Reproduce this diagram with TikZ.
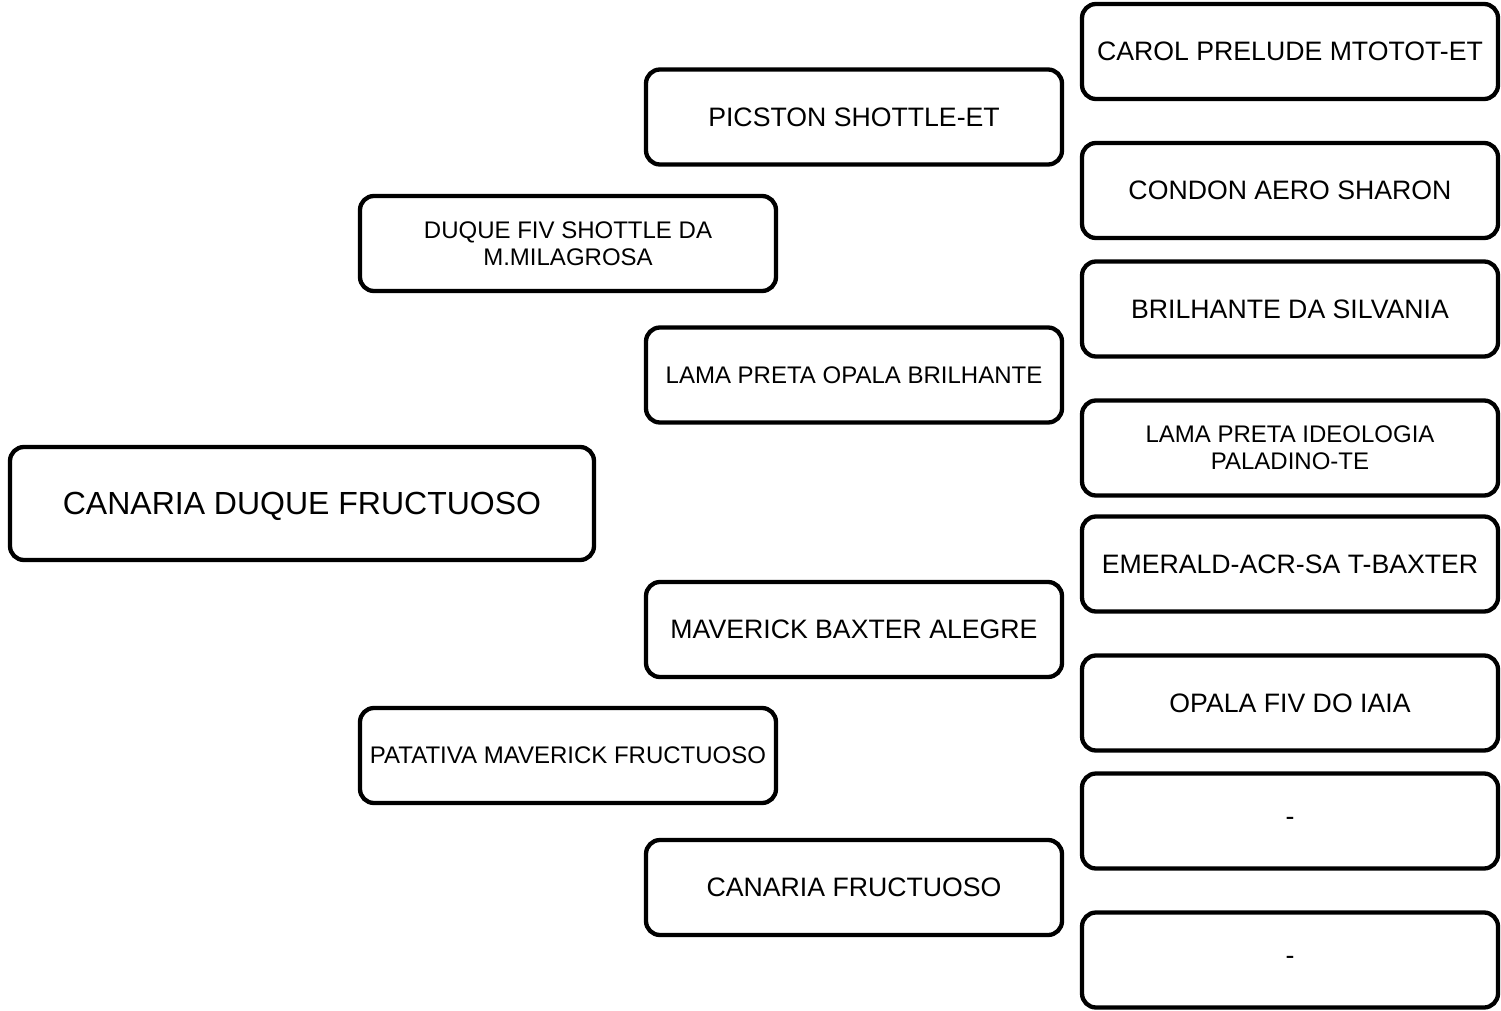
\documentclass[tikz,border=0pt]{standalone}
\usepackage{fontspec}
\setmainfont{Liberation Sans}
\begin{document}
\begin{tikzpicture}[x=1pt,y=-1pt,
  box/.style={draw=black, line width=4.3pt, rounded corners=14pt, fill=white,
    minimum width=416pt, minimum height=95pt, inner sep=0pt, align=center,
    font=\fontsize{26.67}{30}\selectfont},
  small/.style={font=\fontsize{24}{27}\selectfont},
  rootbox/.style={box, minimum width=584pt, minimum height=113pt,
    font=\fontsize{32}{36}\selectfont, text depth=0pt}]
\useasboundingbox (0,0) rectangle (1501,1011);
% root
\node[rootbox] (root) at (302,503.5) {CANARIA DUQUE FRUCTUOSO};
% parents
\node[box,small] (sire) at (568,243.5) {DUQUE FIV SHOTTLE DA\\M.MILAGROSA};
\node[box,small] (dam) at (568,755.5) {PATATIVA MAVERICK FRUCTUOSO};
% grandparents
\node[box] (ss) at (854,117) {PICSTON SHOTTLE-ET};
\node[box,small] (sd) at (854,375) {LAMA PRETA OPALA BRILHANTE};
\node[box] (ds) at (854,629.5) {MAVERICK BAXTER ALEGRE};
\node[box] (dd) at (854,887.5) {CANARIA FRUCTUOSO};
% great-grandparents
\node[box] (sss) at (1290,51.5) {CAROL PRELUDE MTOTOT-ET};
\node[box] (ssd) at (1290,190.5) {CONDON AERO SHARON};
\node[box] (sds) at (1290,309) {BRILHANTE DA SILVANIA};
\node[box,small] (sdd) at (1290,448) {LAMA PRETA IDEOLOGIA\\PALADINO-TE};
\node[box] (dss) at (1290,564) {EMERALD-ACR-SA T-BAXTER};
\node[box] (dsd) at (1290,703) {OPALA FIV DO IAIA};
\node[box] (dds) at (1290,821) {-};
\node[box] (ddd) at (1290,960) {-};
\end{tikzpicture}
\end{document}
